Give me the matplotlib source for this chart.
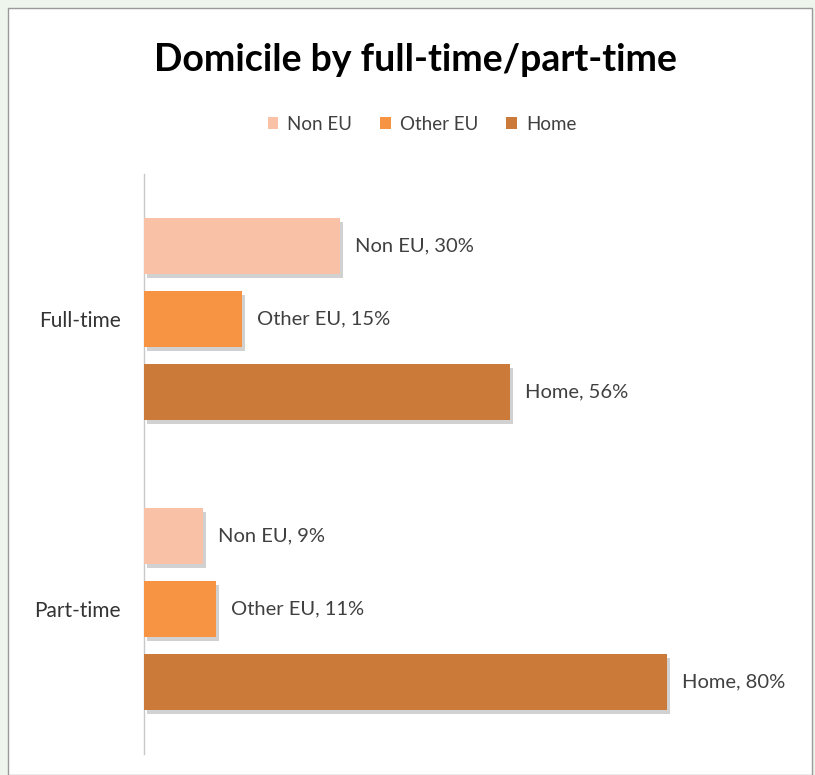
import numpy as np
import matplotlib.pyplot as plt
import matplotlib.patheffects as pe
from matplotlib.patches import Rectangle, Patch

# Data
categories = ["Full-time", "Part-time"]
series = ["Non EU", "Other EU", "Home"]
non_eu = [30, 9]
other_eu = [15, 11]
home = [56, 80]
values = [non_eu, other_eu, home]

colors = ["#F9C2A6", "#F69444", "#CB7A3A"]
font = "Lato"

W, H = 815, 775
fig = plt.figure(figsize=(W / 100, H / 100), dpi=100)
fig.patch.set_facecolor("#EEF5EC")

# chart frame
frame = Rectangle((8 / W, 0), (812 - 8) / W, 1 - 8 / H, transform=fig.transFigure,
                  facecolor="white", edgecolor="#9A9A9A", linewidth=1.0, zorder=-10)
fig.patches.append(frame)

# plot area: category centres at y=319 and y=609 px
ax = fig.add_axes([144 / W, 1 - 754 / H, 654 / W, (754 - 174) / H])
ax.set_facecolor("none")
ax.set_zorder(5)

bar_h = 0.193
step = 0.252
offsets = [-step, 0, step]
y = np.arange(len(categories))

shadow = [pe.SimplePatchShadow(offset=(2, -3), shadow_rgbFace="#9A9A9A", alpha=0.45),
          pe.Normal()]

for name, vals, off, col in zip(series, values, offsets, colors):
    bars = ax.barh(y + off, vals, height=bar_h, color=col, label=name,
                   path_effects=shadow, zorder=3)
    for b, v in zip(bars, vals):
        ax.text(b.get_width() + 2.3, b.get_y() + b.get_height() / 2,
                f"{name}, {v}%", va="center", ha="left", fontsize=14.5,
                color="#404040", family=font, clip_on=False)

ax.set_xlim(0, 100)
ax.set_ylim(1.5, -0.5)
ax.set_xticks([])
ax.set_yticks(y)
ax.set_yticklabels(categories, fontsize=15, color="#333333", family=font)
ax.tick_params(axis="y", length=0, pad=16.5)
for s in ["top", "right", "bottom"]:
    ax.spines[s].set_visible(False)
ax.spines["left"].set_color("#C8C8C8")
ax.spines["left"].set_linewidth(1.0)

fig.text(415 / W, 1 - 60 / H, "Domicile by full-time/part-time", ha="center",
         va="center", fontsize=27, fontweight="bold", family=font, color="black")

handles = [Patch(facecolor=c, label=n) for n, c in zip(series, colors)]
leg = fig.legend(handles=handles, loc="center", bbox_to_anchor=(422 / W, 1 - 124 / H),
                 ncol=3, frameon=False, handlelength=0.55, handleheight=0.55,
                 handletextpad=0.5, columnspacing=1.5,
                 prop={"family": font, "size": 13.5})
for t in leg.get_texts():
    t.set_color("#404040")

fig.savefig("out.png", dpi=100)
